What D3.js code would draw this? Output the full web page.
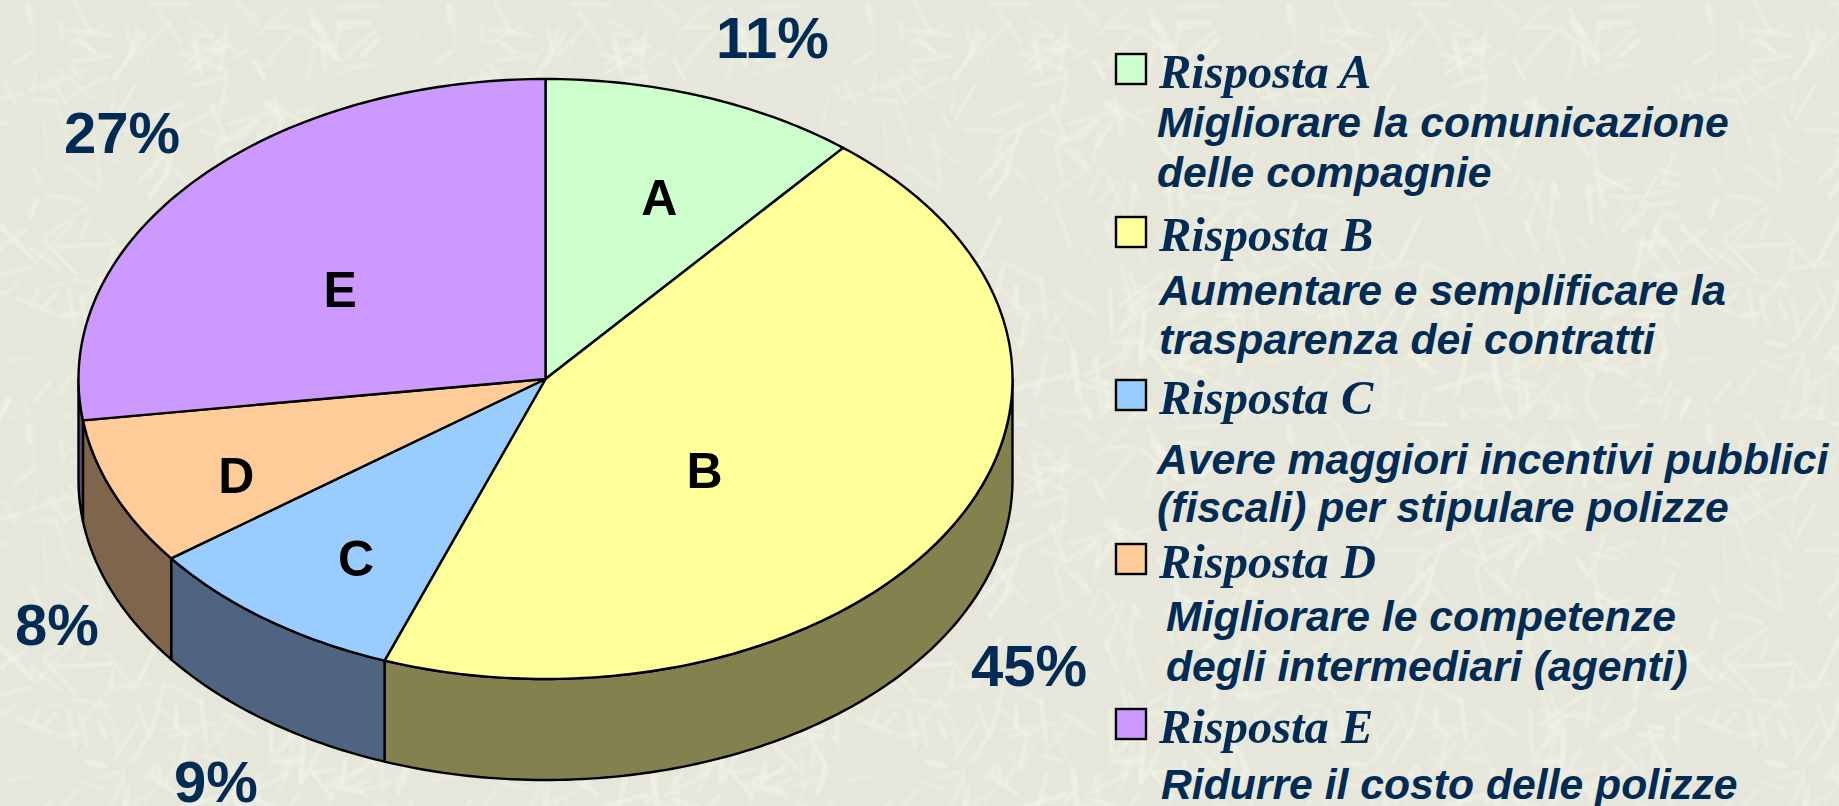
<!DOCTYPE html>
<html>
<head>
<meta charset="utf-8">
<script src="https://cdn.jsdelivr.net/npm/d3@7"></script>
<style>
  html, body { margin: 0; padding: 0; background: #e7e8db; overflow: hidden; }
  svg { display: block; }
</style>
</head>
<body>
<svg id="chart" width="1839" height="806"></svg>
<script>
var letters = ["A", "B", "C", "D", "E"];
var shares = [11, 44.6, 9.2, 8, 27.2];
var percentLabels = ["11%", "45%", "9%", "8%", "27%"];
var topColors = ["#ccffcc", "#ffff99", "#99ccff", "#ffcc99", "#cc99ff"];
var sideColors = ["#66806a", "#83824f", "#4f6481", "#80654d", "#664d80"];

// Legend text
var legendTitles = ["Risposta A", "Risposta B", "Risposta C", "Risposta D", "Risposta E"];
var legendLines = [
  ["Migliorare la comunicazione", "delle compagnie"],
  ["Aumentare e semplificare la", "trasparenza dei contratti"],
  ["Avere maggiori incentivi pubblici", "(fiscali) per stipulare polizze"],
  ["Migliorare le competenze", "degli intermediari (agenti)"],
  ["Ridurre il costo delle polizze"]
];

var W = 1839, H = 806;
var cx = 545.5, cy = 379, rx = 467, ry = 300, depth = 101;
var navy = "#002b55";

// where the letters sit, relative to the 0.6 radius point of their slice
var letterNudge = [[19, -13], [-84, 1], [-22, 35], [-50, 28], [6, 28]];
// left end and baseline of the outer percent labels
var percentSpots = [[716, 58], [971, 686], [174, 802], [15, 645], [64, 153]];
// y of title baselines and of the lines under them, x of the lines
var titleY = [88, 251, 414, 578, 743];
var lineY = [[137, 187], [305, 354], [474, 522], [631, 681], [799]];
var lineX = [1157, 1159, 1157, 1166, 1161];

var svg = d3.select("#chart");

///////////////////////////////////////////////////////////////////////////////
// Paper texture behind the chart (seeded so it stays the same every run)

var rand = d3.randomLcg(0.37);
var defs = svg.append("defs");
defs.append("filter").attr("id", "soft")
  .append("feGaussianBlur").attr("stdDeviation", 1.1);
var tile = defs.append("pattern")
  .attr("id", "paper")
  .attr("patternUnits", "userSpaceOnUse")
  .attr("width", 420).attr("height", 420);
tile.append("rect").attr("width", 420).attr("height", 420).attr("fill", "#e6e7da");
var strokes = tile.append("g").attr("filter", "url(#soft)")
  .attr("stroke", "#f2f3e8").attr("stroke-linecap", "round");
d3.range(300).forEach(function () {
  var x = rand() * 420, y = rand() * 420;
  var a = rand() * Math.PI, len = 15 + rand() * 40;
  strokes.append("line")
    .attr("x1", x).attr("y1", y)
    .attr("x2", x + Math.cos(a) * len).attr("y2", y + Math.sin(a) * len)
    .attr("stroke-width", 2.5 + rand() * 2.5)
    .attr("opacity", 0.3 + rand() * 0.45);
});
svg.append("rect").attr("width", W).attr("height", H).attr("fill", "url(#paper)");

///////////////////////////////////////////////////////////////////////////////
// Pie

var xScale = d3.scaleLinear().domain([-1, 1]).range([cx - rx, cx + rx]);
var yScale = d3.scaleLinear().domain([-1, 1]).range([cy - ry, cy + ry]);

var slices = d3.pie().sort(null)(shares);

var edgeX = function (a, r) { return xScale(Math.sin(a) * r); };
var edgeY = function (a, r) { return yScale(-Math.cos(a) * r); };

var rimPoints = function (a0, a1, drop) {
  var n = Math.max(2, Math.ceil((a1 - a0) * 60));
  return d3.range(n + 1).map(function (i) {
    var a = a0 + (a1 - a0) * i / n;
    return [edgeX(a, 1), edgeY(a, 1) + drop];
  });
};
var line = d3.line();

// Walls: only the front half of the rim can be seen
var wallGroup = svg.append("g");
slices.forEach(function (s) {
  var a0 = Math.max(s.startAngle, Math.PI / 2);
  var a1 = Math.min(s.endAngle, Math.PI * 1.5);
  if (a1 <= a0) return;
  var pts = rimPoints(a0, a1, 0).concat(rimPoints(a0, a1, depth).reverse());
  wallGroup.append("path")
    .attr("d", line(pts) + "Z")
    .attr("fill", sideColors[s.index])
    .attr("stroke", "#000").attr("stroke-width", 2.4)
    .attr("stroke-linejoin", "round");
});

// Top of the pie
svg.append("g").selectAll("path")
  .data(slices)
  .join("path")
  .attr("d", function (s) {
    return line([[cx, cy]].concat(rimPoints(s.startAngle, s.endAngle, 0))) + "Z";
  })
  .attr("fill", function (s) { return topColors[s.index]; })
  .attr("stroke", "#000").attr("stroke-width", 2.4)
  .attr("stroke-linejoin", "round");

// Letters on the slices
svg.append("g").selectAll("text")
  .data(slices)
  .join("text")
  .attr("x", function (s) {
    return edgeX((s.startAngle + s.endAngle) / 2, 0.6) + letterNudge[s.index][0];
  })
  .attr("y", function (s) {
    return edgeY((s.startAngle + s.endAngle) / 2, 0.6) + letterNudge[s.index][1];
  })
  .attr("dy", "0.36em")
  .attr("text-anchor", "middle")
  .attr("font-family", "'Liberation Sans', Arial, sans-serif")
  .attr("font-weight", "bold")
  .attr("font-size", 50)
  .attr("fill", "#000")
  .text(function (s) { return letters[s.index]; });

// Percent labels around the pie
svg.append("g").selectAll("text")
  .data(percentLabels)
  .join("text")
  .attr("x", function (d, i) { return percentSpots[i][0]; })
  .attr("y", function (d, i) { return percentSpots[i][1]; })
  .attr("font-family", "'Liberation Sans', Arial, sans-serif")
  .attr("font-weight", "bold")
  .attr("font-size", 58)
  .attr("fill", navy)
  .text(function (d) { return d; });

///////////////////////////////////////////////////////////////////////////////
// Legend

var legend = svg.append("g");
legendTitles.forEach(function (title, i) {
  legend.append("rect")
    .attr("x", 1116).attr("y", titleY[i] - 34)
    .attr("width", 30).attr("height", 30)
    .attr("fill", topColors[i])
    .attr("stroke", "#000").attr("stroke-width", 2.4);
  legend.append("text")
    .attr("x", 1159).attr("y", titleY[i])
    .attr("font-family", "'Liberation Serif', 'Times New Roman', serif")
    .attr("font-style", "italic").attr("font-weight", "bold")
    .attr("font-size", 48.5)
    .attr("fill", navy)
    .text(title);
  legendLines[i].forEach(function (txt, j) {
    legend.append("text")
      .attr("x", lineX[i]).attr("y", lineY[i][j])
      .attr("font-family", "'Liberation Sans', Arial, sans-serif")
      .attr("font-style", "italic").attr("font-weight", "bold")
      .attr("font-size", 42.7)
      .attr("fill", navy)
      .text(txt);
  });
});
</script>
</body>
</html>
